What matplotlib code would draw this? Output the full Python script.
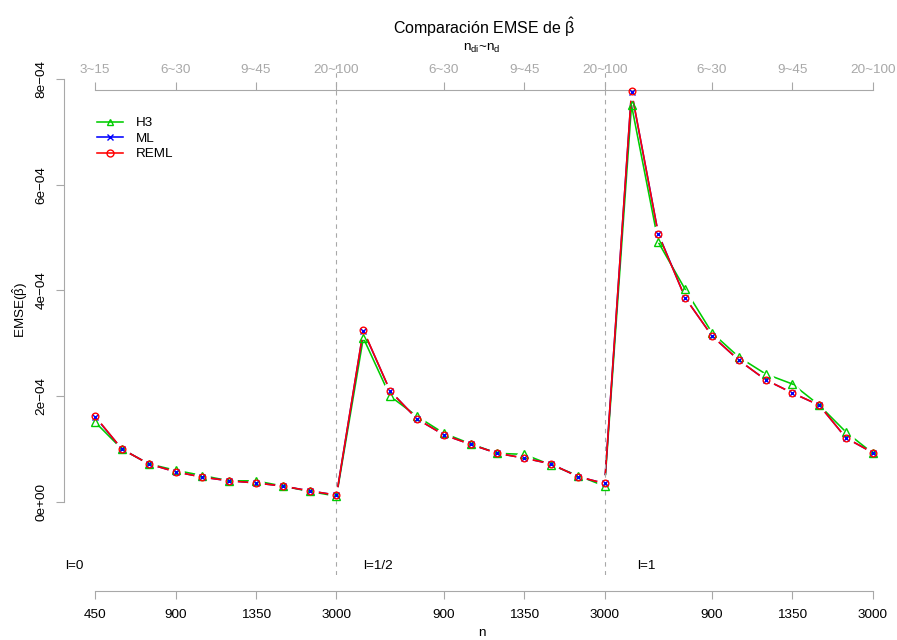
import matplotlib
matplotlib.use('Agg')
import matplotlib.pyplot as plt
from matplotlib.lines import Line2D

plt.rcParams['font.family'] = ['Liberation Sans', 'DejaVu Sans']
plt.rcParams['mathtext.fontset'] = 'custom'
plt.rcParams['mathtext.rm'] = 'Liberation Sans'
plt.rcParams['mathtext.it'] = 'Liberation Sans'

# EMSE of beta-hat (x 1e-4), three blocks of 10 designs each (l = 0, 1/2, 1)
h3 = [1.51, 1.00, 0.72, 0.60, 0.50, 0.40, 0.40, 0.30, 0.20, 0.11,
      3.10, 2.00, 1.62, 1.30, 1.10, 0.92, 0.90, 0.70, 0.50, 0.30,
      7.50, 4.91, 4.02, 3.20, 2.74, 2.42, 2.23, 1.83, 1.32, 0.92]
ml = [1.61, 1.00, 0.72, 0.57, 0.47, 0.40, 0.36, 0.30, 0.21, 0.13,
      3.24, 2.10, 1.57, 1.27, 1.09, 0.92, 0.83, 0.72, 0.48, 0.35,
      7.75, 5.07, 3.86, 3.14, 2.68, 2.31, 2.06, 1.83, 1.21, 0.93]
reml = [1.62, 1.00, 0.72, 0.57, 0.47, 0.40, 0.36, 0.30, 0.21, 0.13,
        3.25, 2.10, 1.57, 1.27, 1.09, 0.92, 0.83, 0.72, 0.48, 0.35,
        7.76, 5.06, 3.86, 3.14, 2.68, 2.31, 2.06, 1.83, 1.21, 0.93]
scale = 1e-4

tick_pos = [1, 4, 7, 10, 14, 17, 20, 24, 27, 30]
n_labels = ['450', '900', '1350', '3000', '900', '1350', '3000', '900', '1350', '3000']
nd_labels = ['3~15', '6~30', '9~45', '20~100', '6~30', '9~45', '20~100', '6~30', '9~45', '20~100']
l_labels = ['l=0', 'l=1/2', 'l=1']
y_ticks = [0, 2e-4, 4e-4, 6e-4, 8e-4]
y_labels = ['0e+00', '2e\u221204', '4e\u221204', '6e\u221204', '8e\u221204']

series = [('H3', h3, '#00cc00', '^'), ('ML', ml, '#0000ff', 'x'), ('REML', reml, '#ff0000', 'o')]

W, H = 897, 640
fig = plt.figure(figsize=(W / 100, H / 100), dpi=100)
ax = fig.add_axes([64 / W, 1 - 575 / H, 840 / W, 510 / H])
ax.patch.set_visible(False)
ax.set_xlim(-0.16, 31.16)
ax.set_ylim(-1.38e-4, 8.26e-4)

xs = list(range(1, 31))
grey = '#a8a8a8'
fs = 9.7

# lines first, then white dots to open the gaps around points (type = "b"), then symbols
for name, vals, col, mk in series:
    ax.plot(xs, [v * scale for v in vals], color=col, lw=1.15, zorder=2)
ax.plot(xs, [v * scale for v in ml], ls='none', marker='o', ms=12,
        mfc='white', mec='none', zorder=2.5)
for name, vals, col, mk in series:
    if mk == 'x':
        ax.plot(xs, [v * scale for v in vals], ls='none', marker='x', ms=4.3,
                mew=1.0, color=col, zorder=3)
    else:
        ax.plot(xs, [v * scale for v in vals], ls='none', marker=mk, ms=5.5 if mk == '^' else 4.8,
                mfc='none', mec=col, mew=1.0, zorder=3)

for xv in [10, 20]:
    ax.axvline(xv, color=grey, lw=0.8, ls=(0, (4, 4)), zorder=2.6)

for txt, xv in zip(l_labels, [-0.1, 11.0, 21.2]):
    ax.text(xv, -1.21e-4, txt, fontsize=fs, ha='left', va='center')

# axes
for s in ['top', 'right']:
    ax.spines[s].set_visible(False)
ax.spines['left'].set_bounds(0, 8e-4)
ax.spines['left'].set_color(grey)
ax.set_yticks(y_ticks)
ax.set_yticklabels(y_labels, rotation=90, va='center', fontsize=fs)
ax.tick_params(axis='y', color=grey, length=5.8, pad=6)

ax.spines['bottom'].set_position(('outward', 11.5))
ax.spines['bottom'].set_bounds(1, 30)
ax.spines['bottom'].set_color(grey)
ax.set_xticks(tick_pos)
ax.set_xticklabels(n_labels, fontsize=fs)
ax.tick_params(axis='x', color=grey, length=5.8, pad=7)

top = ax.secondary_xaxis(485 / 510)
top.set_zorder(2.7)
top.set_xticks(tick_pos)
top.set_xticklabels(nd_labels, fontsize=fs, color=grey)
top.tick_params(color=grey, length=5.8, pad=4)
top.spines['top'].set_bounds(1, 30)
top.spines['top'].set_color(grey)

fig.text(484 / W, 1 - 27 / H, r'Comparación EMSE de $\hat{\beta}$', ha='center', va='center', fontsize=11.5)
fig.text(482 / W, 1 - 48 / H, r'$\mathregular{n_{di}}$~$\mathregular{n_d}$', ha='center', va='center', fontsize=fs)
fig.text(482 / W, 1 - 633 / H, 'n', ha='center', va='center', fontsize=fs)
fig.text(20 / W, 1 - 310 / H, r'EMSE($\hat{\beta}$)', ha='center', va='center', rotation=90, fontsize=fs)

handles = [Line2D([], [], color=col, lw=1.15, marker=mk, ms=5 if mk != 'x' else 4.5,
                  mfc='none', mec=col, mew=1.0) for _, _, col, mk in series]
ax.legend(handles, [s[0] for s in series], loc='upper left', frameon=False, fontsize=fs,
          bbox_to_anchor=(97 / W, 1 - 117 / H), bbox_transform=fig.transFigure,
          borderpad=0, borderaxespad=0, handlelength=1.95, handletextpad=0.9,
          labelspacing=0.22, numpoints=1)

fig.savefig('out.png', dpi=100)
